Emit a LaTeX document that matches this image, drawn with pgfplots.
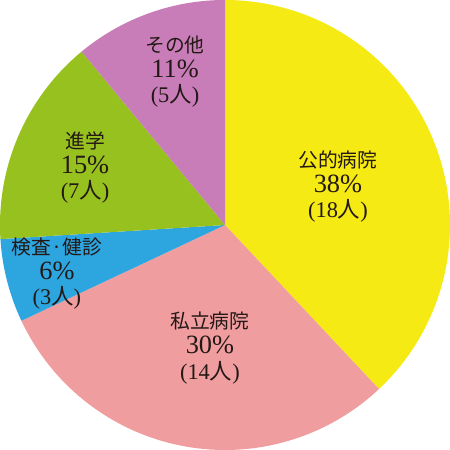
\documentclass[border=0pt]{standalone}
\usepackage{fontspec}
\setmainfont{Liberation Serif}
\newfontfamily\jp{Noto Sans CJK JP}
\usepackage{pgfplots}
\pgfplotsset{compat=1.18}

\definecolor{cPublic}{HTML}{F5EA14}
\definecolor{cPrivate}{HTML}{F09DA0}
\definecolor{cExam}{HTML}{2DA6E0}
\definecolor{cStudy}{HTML}{97C11F}
\definecolor{cOther}{HTML}{C97DB8}
\definecolor{txt}{HTML}{231815}

% shares in percent, clockwise from the top
\def\vA{38}\def\vB{30}\def\vC{6}\def\vD{15}\def\vE{11}

% one slice from angle #1 down to angle #2
\newcommand\pieslice[3]{%
  \addplot[fill=#3, draw=none, domain=#2:#1, samples=150, variable=\t]
    ({cos(\t)},{sin(\t)}) -- (axis cs:0,0) -- cycle;}

% three-line label: name, percentage, head count
\newcommand\lab[5]{%
  \node[align=center, text=txt, inner sep=0pt,
        font=\fontsize{17}{19}\selectfont] at (axis cs:#1,#2)
    {{\jp\fontsize{15}{19}\selectfont #3}\\
     {\fontsize{20}{19}\selectfont #4\%}\\
     {\fontsize{17}{19}\selectfont (#5{\jp 人})}};}

\begin{document}
\begin{tikzpicture}
\pgfmathsetmacro\aA{90}
\pgfmathsetmacro\aB{\aA-3.6*\vA}
\pgfmathsetmacro\aC{\aB-3.6*\vB}
\pgfmathsetmacro\aD{\aC-3.6*\vC}
\pgfmathsetmacro\aE{\aD-3.6*\vD}
\pgfmathsetmacro\aF{\aE-3.6*\vE}
\begin{axis}[
  scale only axis, width=12cm, height=12cm,
  xmin=-1, xmax=1, ymin=-1, ymax=1,
  hide axis, clip=false]
  \pieslice{\aA}{\aB}{cPublic}
  \pieslice{\aB}{\aC}{cPrivate}
  \pieslice{\aC}{\aD}{cExam}
  \pieslice{\aD}{\aE}{cStudy}
  \pieslice{\aE}{\aF}{cOther}

  \lab{0.502}{0.170}{公的病院}{\vA}{18}
  \lab{-0.067}{-0.547}{私立病院}{\vB}{14}
  \lab{-0.747}{-0.215}{{\jp 検査}·{\jp 健診}}{\vC}{3}
  \lab{-0.622}{0.255}{進学}{\vD}{7}
  \lab{-0.222}{0.68}{その他}{\vE}{5}
\end{axis}
\end{tikzpicture}
\end{document}
